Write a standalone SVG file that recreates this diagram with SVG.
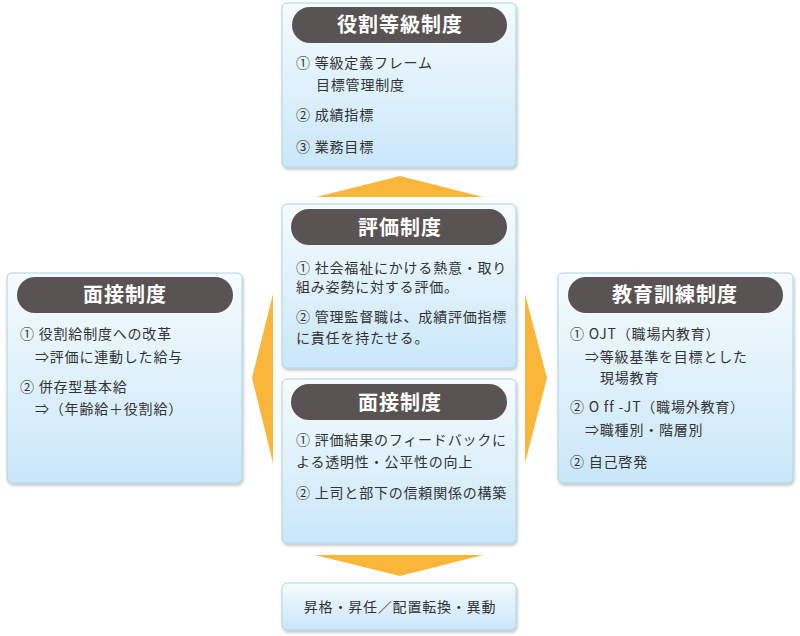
<svg xmlns="http://www.w3.org/2000/svg" width="800" height="636" viewBox="0 0 800 636">
<defs>
<linearGradient id="boxg" x1="0" y1="0" x2="0" y2="1">
<stop offset="0" stop-color="#f6fbfe"/>
<stop offset="1" stop-color="#c9e7f9"/>
</linearGradient>
<filter id="sh" x="-5%" y="-5%" width="110%" height="115%">
<feDropShadow dx="1" dy="2" stdDeviation="1.5" flood-color="#000" flood-opacity="0.25"/>
</filter>
<style>
.box{fill:url(#boxg);stroke:#a6d6e8;stroke-width:1;filter:url(#sh)}
.pill{fill:#595353}
.ttl{font-family:"Noto Sans CJK JP","Noto Sans",sans-serif;font-size:20px;font-weight:bold;fill:#ffffff;text-anchor:middle;letter-spacing:1px}
.t{font-family:"Noto Sans CJK JP","Noto Sans",sans-serif;font-size:14px;fill:#333333;letter-spacing:0.8px}
.arr{fill:#f9b63a}
</style>
</defs>
<rect width="800" height="636" fill="#ffffff"/>
<g id="connectors">
<polygon class="arr" points="400,176 483,197 316,197"/>
<polygon class="arr" points="273,294 252,378 273,463"/>
<polygon class="arr" points="525,294 547,378 525,463"/>
<polygon class="arr" points="315,555 483,555 400,576"/>
</g>
<g id="node-yakuwari">
<rect class="box" x="282" y="3" width="234" height="164" rx="5"/>
<rect class="pill" x="292" y="7" width="215" height="36" rx="18"/>
<text class="ttl" x="400" y="32">役割等級制度</text>
<text class="t" x="296" y="68">① 等級定義フレーム</text>
<text class="t" x="316" y="90">目標管理制度</text>
<text class="t" x="296" y="120">② 成績指標</text>
<text class="t" x="296" y="152">③ 業務目標</text>
</g>
<g id="node-mensetsu-left">
<rect class="box" x="7" y="273" width="235" height="210" rx="5"/>
<rect class="pill" x="17" y="277" width="216" height="36" rx="18"/>
<text class="ttl" x="125" y="302">面接制度</text>
<text class="t" x="20" y="339">① 役割給制度への改革</text>
<text class="t" x="35" y="362">⇒評価に連動した給与</text>
<text class="t" x="20" y="392">② 併存型基本給</text>
<text class="t" x="35" y="414">⇒（年齢給＋役割給）</text>
</g>
<g id="node-kyoiku">
<rect class="box" x="558" y="273" width="235" height="210" rx="5"/>
<rect class="pill" x="568" y="277" width="215" height="36" rx="18"/>
<text class="ttl" x="675" y="302">教育訓練制度</text>
<text class="t" x="570" y="339">① OJT（職場内教育）</text>
<text class="t" x="585" y="362">⇒等級基準を目標とした</text>
<text class="t" x="600" y="383">現場教育</text>
<text class="t" x="570" y="412">② O ff -JT（職場外教育）</text>
<text class="t" x="585" y="435">⇒職種別・階層別</text>
<text class="t" x="570" y="467">② 自己啓発</text>
</g>
<g id="node-hyoka">
<rect class="box" x="282" y="204" width="234" height="164" rx="5"/>
<rect class="pill" x="291" y="209" width="216" height="36" rx="18"/>
<text class="ttl" x="400" y="235">評価制度</text>
<text class="t" x="296" y="273">① 社会福祉にかける熱意・取り</text>
<text class="t" x="296" y="292">組み姿勢に対する評価。</text>
<text class="t" x="296" y="322">② 管理監督職は、成績評価指標</text>
<text class="t" x="296" y="343">に責任を持たせる。</text>
</g>
<g id="node-mensetsu-center">
<rect class="box" x="282" y="379" width="234" height="164" rx="5"/>
<rect class="pill" x="291" y="384" width="216" height="36" rx="18"/>
<text class="ttl" x="400" y="410">面接制度</text>
<text class="t" x="296" y="445">① 評価結果のフィードバックに</text>
<text class="t" x="296" y="467">よる透明性・公平性の向上</text>
<text class="t" x="296" y="498">② 上司と部下の信頼関係の構築</text>
</g>
<g id="node-shokaku">
<rect class="box" x="282" y="583" width="234" height="47" rx="5"/>
<text class="t" x="400" y="612" text-anchor="middle">昇格・昇任／配置転換・異動</text>
</g>
</svg>
